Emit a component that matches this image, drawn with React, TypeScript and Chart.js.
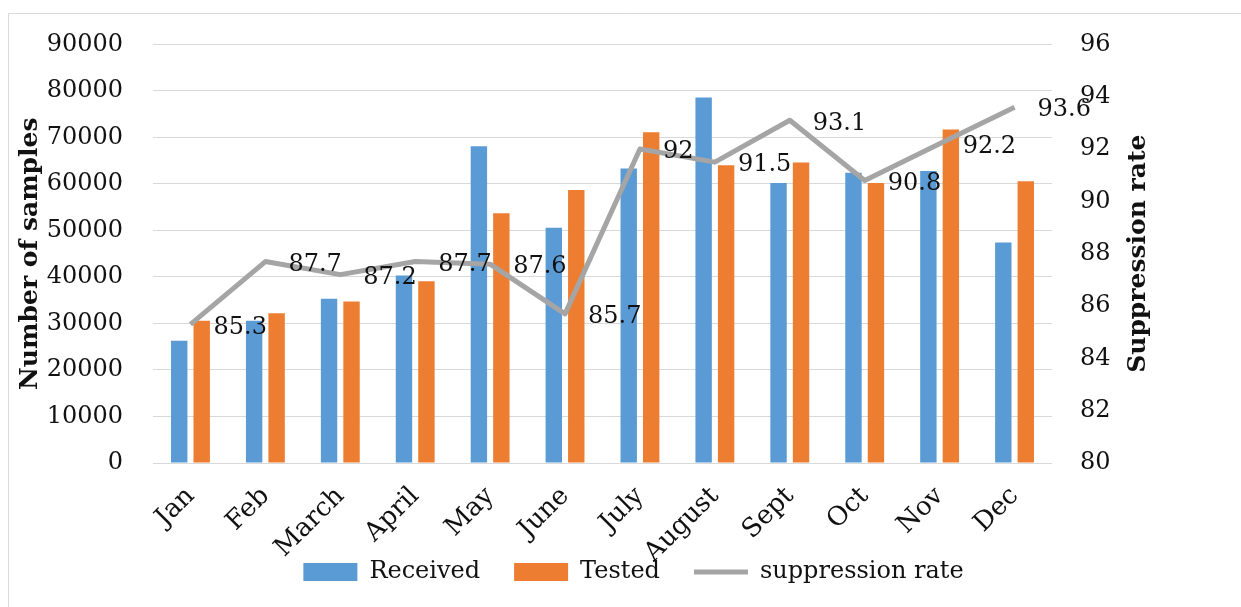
import { useEffect, useRef } from 'react';
import { Chart, registerables } from 'chart.js';

Chart.register(...registerables);

const months = ['Jan', 'Feb', 'March', 'April', 'May', 'June', 'July', 'August', 'Sept', 'Oct', 'Nov', 'Dec'];
const received = [26300, 30600, 35300, 40300, 68100, 50600, 63300, 78600, 60200, 62400, 62800, 47400];
const tested = [30600, 32200, 34700, 39100, 53700, 58700, 71100, 64000, 64600, 60200, 71700, 60600];
const suppressionRate = [85.3, 87.7, 87.2, 87.7, 87.6, 85.7, 92, 91.5, 93.1, 90.8, 92.2, 93.6];

const leftTitle = 'Number of samples';
const rightTitle = 'Suppression rate';

const FAMILY = "'DejaVu Serif', serif";
const TEXT = '#111111';

const decorPlugin = {
  id: 'decor',
  beforeDraw(chart: any) {
    const ctx = chart.ctx;
    ctx.save();
    ctx.fillStyle = '#ffffff';
    ctx.fillRect(0, 0, chart.width, chart.height);
    ctx.strokeStyle = '#d9d9d9';
    ctx.lineWidth = 1;
    ctx.beginPath();
    ctx.moveTo(8.5, chart.height);
    ctx.lineTo(8.5, 13.5);
    ctx.lineTo(chart.width, 13.5);
    ctx.stroke();
    ctx.restore();
  },
  afterDatasetsDraw(chart: any) {
    const ctx = chart.ctx;
    const meta = chart.getDatasetMeta(2);
    ctx.save();
    ctx.font = `24px ${FAMILY}`;
    ctx.fillStyle = TEXT;
    ctx.textAlign = 'left';
    ctx.textBaseline = 'middle';
    meta.data.forEach((pt: any, i: number) => {
      ctx.fillText(String(suppressionRate[i]), pt.x + 23, pt.y + 3);
    });
    ctx.restore();
  },
  afterDraw(chart: any) {
    const ctx = chart.ctx;
    const { top, bottom } = chart.chartArea;
    const cy = (top + bottom) / 2;
    const drawTitle = (text: string, x: number) => {
      ctx.save();
      ctx.font = `bold 25px ${FAMILY}`;
      ctx.fillStyle = TEXT;
      ctx.textAlign = 'center';
      ctx.textBaseline = 'middle';
      ctx.translate(x, cy);
      ctx.rotate(-Math.PI / 2);
      ctx.fillText(text, 0, 0);
      ctx.restore();
    };
    drawTitle(leftTitle, 30);
    drawTitle(rightTitle, 1138);
  },
};

export default function App() {
  const ref = useRef<HTMLCanvasElement>(null);

  useEffect(() => {
    if (!ref.current) return;
    const chart = new Chart(ref.current, {
      type: 'bar',
      data: {
        labels: months,
        datasets: [
          {
            type: 'bar',
            label: 'Received',
            data: received,
            backgroundColor: '#5B9BD5',
            yAxisID: 'y',
            order: 1,
            categoryPercentage: 0.6,
            barPercentage: 0.73,
            pointStyle: 'rect',
          },
          {
            type: 'bar',
            label: 'Tested',
            data: tested,
            backgroundColor: '#ED7D31',
            yAxisID: 'y',
            order: 1,
            categoryPercentage: 0.6,
            barPercentage: 0.73,
            pointStyle: 'rect',
          },
          {
            type: 'line',
            label: 'suppression rate',
            data: suppressionRate,
            borderColor: '#A5A5A5',
            backgroundColor: '#A5A5A5',
            borderWidth: 5,
            pointRadius: 0,
            pointStyle: 'line',
            borderJoinStyle: 'round',
            yAxisID: 'y1',
            order: 0,
          } as any,
        ],
      },
      options: {
        responsive: false,
        animation: false,
        devicePixelRatio: 1,
        events: [],
        layout: { padding: { left: 26, right: 0, top: 43, bottom: 13 } },
        plugins: {
          tooltip: { enabled: false },
          legend: {
            position: 'bottom',
            labels: {
              usePointStyle: true,
              pointStyleWidth: 54,
              boxHeight: 18,
              padding: 34,
              color: TEXT,
              font: { size: 24, family: FAMILY },
              sort: (a: any, b: any) => a.datasetIndex - b.datasetIndex,
            },
          },
        },
        scales: {
          x: {
            grid: { display: false },
            border: { display: false },
            ticks: {
              minRotation: 45,
              maxRotation: 45,
              autoSkip: false,
              padding: 10,
              color: TEXT,
              font: { size: 26, family: FAMILY },
            },
            afterFit: (s: any) => {
              s.height = 63;
              s._computeLabelArea = () => undefined;
            },
          },
          y: {
            position: 'left',
            min: 0,
            max: 90000,
            ticks: {
              stepSize: 10000,
              padding: 30,
              color: TEXT,
              font: { size: 24, family: FAMILY },
              callback: (v: any) => String(v),
            },
            grid: { color: '#d9d9d9', lineWidth: 1, drawTicks: false },
            border: { display: false },
            afterFit: (s: any) => {
              s.width = 127;
            },
          },
          y1: {
            position: 'right',
            min: 80,
            max: 96,
            ticks: {
              stepSize: 2,
              padding: 28,
              color: TEXT,
              font: { size: 24, family: FAMILY },
              callback: (v: any) => String(v),
            },
            grid: { display: false, drawTicks: false },
            border: { display: false },
            afterFit: (s: any) => {
              s.width = 189;
            },
          },
        },
      },
      plugins: [decorPlugin],
    });
    return () => chart.destroy();
  }, []);

  return (
    <div style={{ position: 'fixed', left: 0, top: 0, width: 1241, height: 607, background: '#fff' }}>
      <canvas ref={ref} width={1241} height={607} style={{ display: 'block', width: 1241, height: 607 }} />
    </div>
  );
}
